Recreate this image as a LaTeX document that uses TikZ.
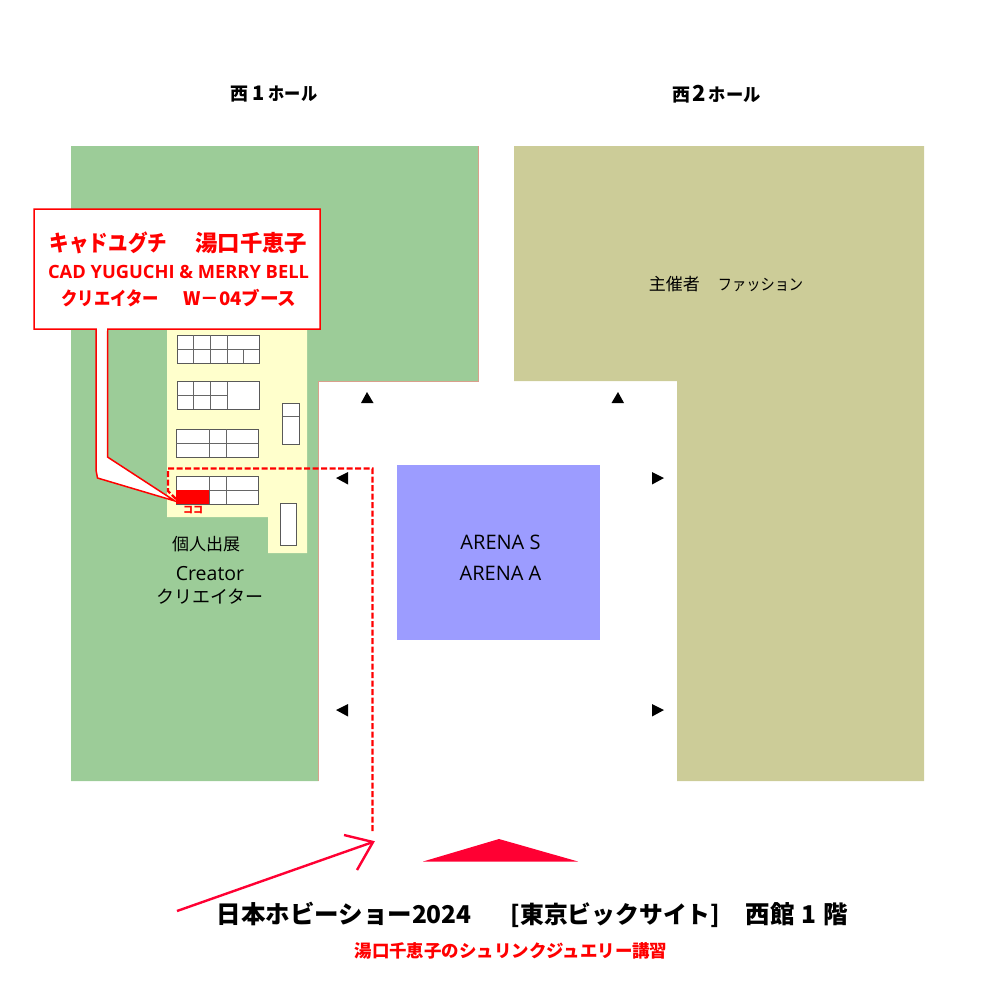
\documentclass[tikz,border=0pt]{standalone}
\usepackage{graphicx}
\usepackage{fontspec}
\usepackage{xcolor}
\newfontfamily\jpfont{Noto Sans CJK JP}
\newfontfamily\latinfont{Open Sans}
\definecolor{hallgreen}{HTML}{9CCC98}
\definecolor{hallkhaki}{HTML}{CCCC98}
\definecolor{arenablue}{HTML}{9C9CFF}
\definecolor{zoneyellow}{HTML}{FFFFCC}
\definecolor{halledge}{HTML}{D9A08C}
\definecolor{routered}{HTML}{FF0033}
\newcommand{\fsz}[1]{\fontsize{#1}{#1}\selectfont}
\newcommand{\narrowkana}[2]{\scalebox{#1}[1]{#2}}
\tikzset{
    hall/.style={inner sep=0pt, font=\jpfont},
    booth/.style={draw=black!65, fill=white, line width=0.8pt},
    boothline/.style={draw=black!60, line width=0.7pt},
    exitmark/.style={fill=black},
    labelred/.style={inner sep=0pt, text=red, font=\jpfont\bfseries}
}
\begin{document}
\begin{tikzpicture}[x=1pt,y=-1pt]

        \useasboundingbox (0,0) rectangle (1000,991);

        \fill[hallgreen] (71,146) -- (478.5,146) -- (478.5,381.5) -- (318.5,381.5) -- (318.5,781) -- (71,781) -- cycle;
        \draw[halledge, line width=0.7pt] (478.5,146) -- (478.5,381.5) -- (318.5,381.5) -- (318.5,781);
        \fill[hallkhaki] (514,146) -- (924,146) -- (924,781) -- (677,781) -- (677,381) -- (514,381) -- cycle;
        \fill[arenablue] (397,465) rectangle (599.5,640);
        \fill[zoneyellow] (167,320) -- (307,320) -- (307,553) -- (268,553) -- (268,517) -- (167,517) -- cycle;

        \draw[booth] (177,335) rectangle (259,363);
        \draw[boothline] (177,349) -- (259,349);
        \draw[boothline] (193,335) -- (193,363);
        \draw[boothline] (210,335) -- (210,363);
        \draw[boothline] (227,335) -- (227,363);
        \draw[boothline] (243,349) -- (243,363);

        \draw[booth] (177,381.5) rectangle (259,409);
        \draw[boothline] (177,395.5) -- (227,395.5);
        \draw[boothline] (193,381.5) -- (193,409);
        \draw[boothline] (210,381.5) -- (210,409);
        \draw[boothline] (227,381.5) -- (227,409);

        \draw[booth] (176,429) rectangle (258,457);
        \draw[boothline] (176,443) -- (258,443);
        \draw[boothline] (209,429) -- (209,457);
        \draw[boothline] (226,429) -- (226,457);

        \draw[booth] (176,476) rectangle (258,504);
        \draw[boothline] (176,490) -- (258,490);
        \draw[boothline] (209,476) -- (209,504);
        \draw[boothline] (226,476) -- (226,504);
        \fill[red] (176,490) rectangle (209,504);

        \draw[booth] (282.5,403) rectangle (299,444.5);
        \draw[boothline] (282.5,416) -- (299,416);
        \draw[booth] (280,503.5) rectangle (296.5,545.5);

        \fill[exitmark] (361,403) -- (373.5,403) -- (367,392) -- cycle;
        \fill[exitmark] (611.5,403) -- (624,403) -- (618,392) -- cycle;
        \fill[exitmark] (348,472) -- (348,484.5) -- (336,478) -- cycle;
        \fill[exitmark] (348,704) -- (348,716.5) -- (336,710) -- cycle;
        \fill[exitmark] (652,472) -- (652,484.5) -- (664,478) -- cycle;
        \fill[exitmark] (652,704) -- (652,716.5) -- (664,710) -- cycle;

        \coordinate (R_1) at (372.5,831);
        \coordinate (R_2) at (372.5,468.5);
        \coordinate (R_3) at (168,468.5);
        \coordinate (R_4) at (168,491);
        \coordinate (R_5) at (176,499);
        \draw[red, line width=2.4pt, dash pattern=on 6pt off 2.5pt] (R_1) -- (R_2) -- (R_3) -- (R_4) -- (R_5);

        \coordinate (C_1) at (34,209);
        \coordinate (C_2) at (320,209);
        \coordinate (C_3) at (320,329);
        \coordinate (C_4) at (107.5,329);
        \coordinate (C_5) at (107.5,457);
        \coordinate (C_6) at (175,501);
        \coordinate (C_7) at (97.5,478);
        \coordinate (C_8) at (96,470);
        \coordinate (C_9) at (96,329);
        \coordinate (C_10) at (34,329);
        \fill[white] (C_1) -- (C_2) -- (C_3) -- (C_4) -- (C_5) -- (C_6) -- (C_7) -- (C_8) -- (C_9) -- (C_10) -- cycle;
        \draw[red, line width=1.5pt] (C_4) -- (C_5) -- (C_6) -- (C_7) -- (C_8) -- (C_9) -- (C_10) -- (C_1) -- (C_2) -- (C_3) -- cycle;
        \fill[white] (97,327) rectangle (106.5,331);

        \coordinate (A_1) at (177,911);
        \coordinate (A_2) at (373,842);
        \coordinate (A_3) at (344,835);
        \coordinate (A_4) at (357,870);
        \draw[routered, line width=2.4pt] (A_1) -- (A_2);
        \draw[routered, line width=2.4pt] (A_3) -- (A_2) -- (A_4);
        \coordinate (T_1) at (423,861.5);
        \coordinate (T_2) at (499,839);
        \coordinate (T_3) at (578,861.5);
        \fill[routered] (T_1) -- (T_2) -- (T_3) -- cycle;

        \node[hall, font=\jpfont\bfseries\fsz{18}] (west_1) at (274,94.5) {西\hspace{4pt}{\fsz{20}1}\hspace{4pt}\narrowkana{0.9}{ホール}};
        \node[hall, font=\jpfont\bfseries\fsz{18}] (west_2) at (716.5,94.5) {西\hspace{2pt}{\fsz{22}2}\hspace{3pt}\narrowkana{0.96}{ホール}};
        \node[hall, font=\jpfont] (organizer) at (726,284) {{\fsz{17}主催者}\hspace{18pt}{\fsz{16}\narrowkana{0.89}{ファッション}}};
        \node[hall, font=\jpfont\fsz{17}] (solo) at (206,544) {個人出展};
        \node[hall, font=\latinfont\fsz{19.5}] (creator) at (210,574) {Creator};
        \node[hall, font=\jpfont\fsz{18}] (creator_jp) at (210,597) {クリエイター};
        \node[hall, font=\latinfont\fsz{20}] (arena_s) at (500.5,542) {ARENA S};
        \node[hall, font=\latinfont\fsz{20}] (arena_a) at (500.5,573) {ARENA A};

        \node[labelred, font=\jpfont\bfseries] (name) at (178.5,243) {{\fsz{22.4}\narrowkana{0.875}{キャドユグチ}}\hspace{28pt}{\fsz{22.4}湯口千恵子}};
        \node[labelred, font=\latinfont\bfseries\fsz{18.3}] (brand) at (178.5,272) {CAD YUGUCHI \& MERRY BELL};
        \node[labelred, font=\jpfont\bfseries] (booth_no) at (179,298) {{\fsz{18.6}\narrowkana{0.88}{クリエイター}}\hspace{24pt}{\fsz{18.6}W－04ブース}};
        \node[labelred, font=\jpfont\bfseries\fsz{10}] (here) at (193,510.5) {ココ};

        \node[hall, font=\jpfont\bfseries\fsz{24.5}] (title) at (532.5,914.5) {日本ホビーショー2024　\hspace{9pt} {\fsz{23.8}[東京ビックサイト]}　\hspace{1pt}西館\hspace{1.5pt} 1 \hspace{1.5pt}階};
        \node[labelred, font=\jpfont\bfseries\fsz{17.45}] (subtitle) at (511,951) {湯口千恵子のシュリンクジュエリー講習};

    \end{tikzpicture}
\end{document}
